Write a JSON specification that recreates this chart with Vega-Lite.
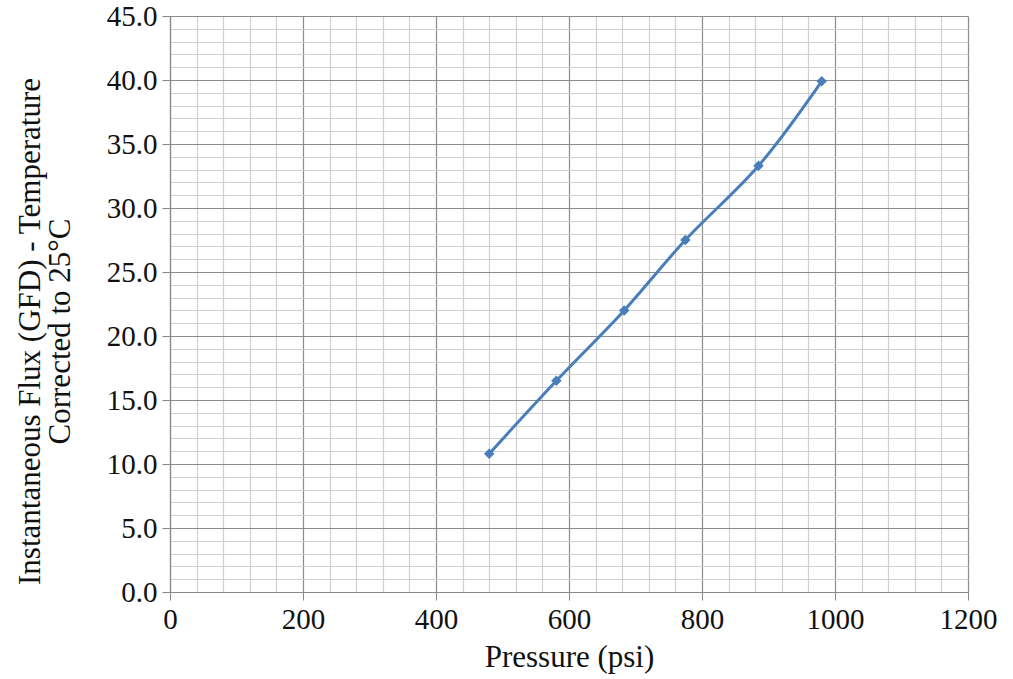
{
  "$schema": "https://vega.github.io/schema/vega-lite/v6.json",
  "autosize": {"type": "none"},
  "padding": {"left": 170, "top": 16, "right": 45, "bottom": 87},
  "width": 798,
  "height": 576,
  "background": "white",
  "config": {
    "view": {"stroke": null},
    "font": "Liberation Serif"
  },
  "data": {
    "values": [
      {"pressure": 480, "flux": 10.8},
      {"pressure": 581, "flux": 16.5},
      {"pressure": 683, "flux": 22.0},
      {"pressure": 775, "flux": 27.5},
      {"pressure": 885, "flux": 33.3},
      {"pressure": 980, "flux": 39.9}
    ]
  },
  "encoding": {
    "x": {
      "field": "pressure",
      "type": "quantitative",
      "scale": {"domain": [0, 1200], "nice": false, "zero": true},
      "axis": {
        "title": "Pressure (psi)",
        "values": [0,40,80,120,160,200,240,280,320,360,400,440,480,520,560,600,640,680,720,760,800,840,880,920,960,1000,1040,1080,1120,1160,1200],
        "labelExpr": "datum.value % 200 === 0 ? datum.label : ''",
        "format": "d",
        "labelOverlap": false,
        "labelFlush": false,
        "labelFont": "Liberation Serif",
        "labelFontSize": 29,
        "labelColor": "#111111",
        "labelPadding": 5,
        "tickSize": 8,
        "tickColor": {"condition": {"test": "datum.value % 200 === 0", "value": "#888888"}, "value": "transparent"},
        "domainColor": "#888888",
        "domainWidth": 1.2,
        "grid": true,
        "gridColor": {"condition": {"test": "datum.value % 200 === 0", "value": "#8c8c8c"}, "value": "#cfcfcf"},
        "gridWidth": 1.2,
        "titleFont": "Liberation Serif",
        "titleFontSize": 31,
        "titleFontWeight": "normal",
        "titleColor": "#111111",
        "titlePadding": 8
      }
    },
    "y": {
      "field": "flux",
      "type": "quantitative",
      "scale": {"domain": [0, 45], "nice": false},
      "axis": {
        "title": ["Instantaneous  Flux (GFD) - Temperature", "Corrected to 25°C"],
        "values": [0,1,2,3,4,5,6,7,8,9,10,11,12,13,14,15,16,17,18,19,20,21,22,23,24,25,26,27,28,29,30,31,32,33,34,35,36,37,38,39,40,41,42,43,44,45],
        "labelExpr": "datum.value % 5 === 0 ? format(datum.value, '.1f') : ''",
        "labelOverlap": false,
        "labelFlush": false,
        "labelFont": "Liberation Serif",
        "labelFontSize": 29,
        "labelColor": "#111111",
        "labelPadding": 5,
        "tickSize": 8,
        "tickColor": {"condition": {"test": "datum.value % 5 === 0", "value": "#888888"}, "value": "transparent"},
        "domainColor": "#888888",
        "domainWidth": 1.2,
        "grid": true,
        "gridColor": {"condition": {"test": "datum.value % 5 === 0", "value": "#8c8c8c"}, "value": "#cfcfcf"},
        "gridWidth": 1.2,
        "titleFont": "Liberation Serif",
        "titleFontSize": 31,
        "titleFontWeight": "normal",
        "titleColor": "#111111",
        "titleLineHeight": 30,
        "titleAngle": -90,
        "titleX": -155,
        "titleY": 315,
        "titleBaseline": "top",
        "titleAlign": "center"
      }
    }
  },
  "layer": [
    {
      "mark": {"type": "line", "interpolate": "catmull-rom", "color": "#4A7EBB", "strokeWidth": 3}
    },
    {
      "mark": {"type": "point", "shape": "diamond", "filled": true, "color": "#4A7EBB", "size": 110, "opacity": 1}
    }
  ]
}
